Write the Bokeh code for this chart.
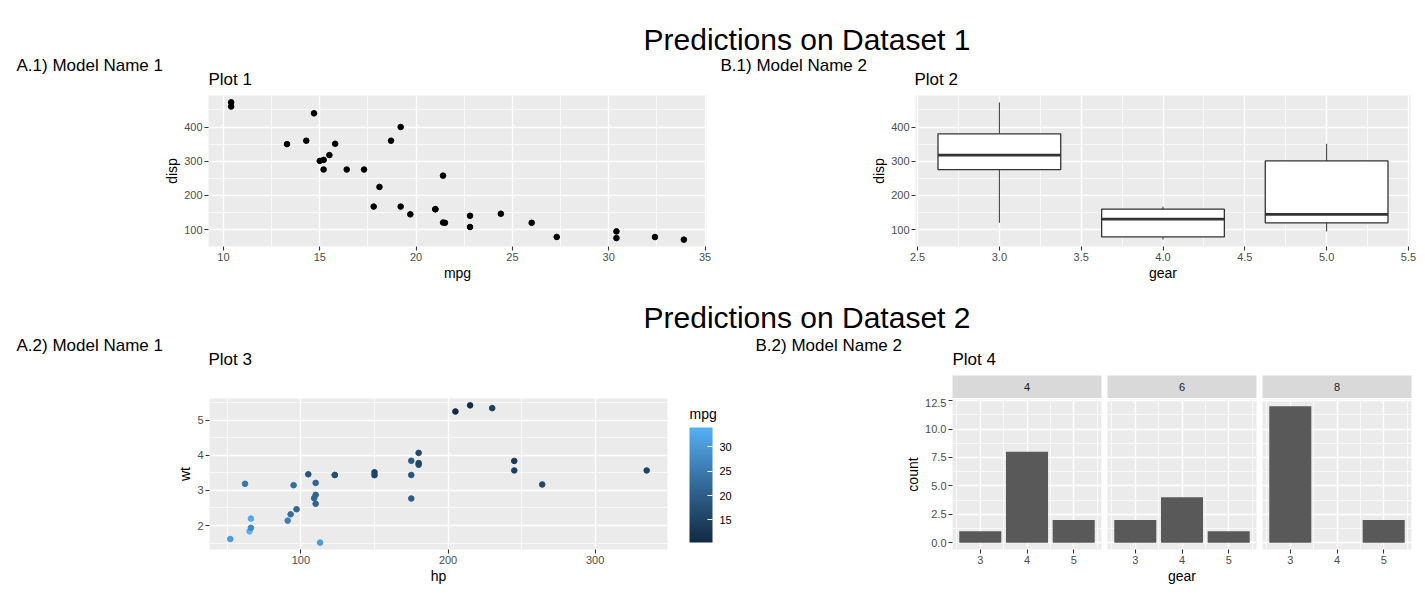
import numpy as np
import pandas as pd

from bokeh.core.properties import value
from bokeh.embed import file_html
from bokeh.layouts import column, row
from bokeh.models import (ColorBar, ColumnDataSource, FixedTicker, LinearColorMapper,
                          NumeralTickFormatter, Range1d)
from bokeh.plotting import figure
from bokeh.resources import INLINE
from bokeh.transform import transform

FONT = "Liberation Sans"
PANEL_BG = "#EBEBEB"
STRIP_BG = "#D9D9D9"
TICK_GREY = "#4D4D4D"
BAR_GREY = "#595959"
BOX_LINE = "#333333"

# ---- mtcars columns ----
mpg = [21.0, 21.0, 22.8, 21.4, 18.7, 18.1, 14.3, 24.4, 22.8, 19.2, 17.8, 16.4, 17.3, 15.2,
       10.4, 10.4, 14.7, 32.4, 30.4, 33.9, 21.5, 15.5, 15.2, 13.3, 19.2, 27.3, 26.0, 30.4,
       15.8, 19.7, 15.0, 21.4]
cyl = [6, 6, 4, 6, 8, 6, 8, 4, 4, 6, 6, 8, 8, 8, 8, 8, 8, 4, 4, 4, 4, 8, 8, 8, 8, 4, 4, 4,
       8, 6, 8, 4]
disp = [160.0, 160.0, 108.0, 258.0, 360.0, 225.0, 360.0, 146.7, 140.8, 167.6, 167.6, 275.8,
        275.8, 275.8, 472.0, 460.0, 440.0, 78.7, 75.7, 71.1, 120.1, 318.0, 304.0, 350.0,
        400.0, 79.0, 120.3, 95.1, 351.0, 145.0, 301.0, 121.0]
hp = [110, 110, 93, 110, 175, 105, 245, 62, 95, 123, 123, 180, 180, 180, 205, 215, 230, 66,
      52, 65, 97, 150, 150, 245, 175, 66, 91, 113, 264, 175, 335, 109]
wt = [2.620, 2.875, 2.320, 3.215, 3.440, 3.460, 3.570, 3.190, 3.150, 3.440, 3.440, 4.070,
      3.730, 3.780, 5.250, 5.424, 5.345, 2.200, 1.615, 1.835, 2.465, 3.520, 3.435, 3.840,
      3.845, 1.935, 2.140, 1.513, 3.170, 2.770, 3.570, 2.780]
gear = [4, 4, 4, 3, 3, 3, 3, 4, 4, 4, 4, 3, 3, 3, 3, 3, 3, 4, 4, 4, 3, 3, 3, 3, 3, 4, 5, 5,
        5, 5, 5, 4]

# ---- breaks ----
mpg_breaks, mpg_minor = [10, 15, 20, 25, 30, 35], [12.5, 17.5, 22.5, 27.5, 32.5]
disp_breaks, disp_minor = [100, 200, 300, 400], [150, 250, 350, 450]
gear_breaks, gear_minor = [2.5, 3.0, 3.5, 4.0, 4.5, 5.0, 5.5], [2.75, 3.25, 3.75, 4.25, 4.75, 5.25]
hp_breaks, hp_minor = [100, 200, 300], [50, 150, 250]
wt_breaks, wt_minor = [2, 3, 4, 5], [1.5, 2.5, 3.5, 4.5, 5.5]
bar_gear_breaks, bar_gear_minor = [3, 4, 5], [2.5, 3.5, 4.5, 5.5]
count_breaks, count_minor = [0, 2.5, 5, 7.5, 10, 12.5], [1.25, 3.75, 6.25, 8.75, 11.25]
mpg_legend_breaks = [15, 20, 25, 30]

# ---- text ----
dataset_titles = ["Predictions on Dataset 1", "Predictions on Dataset 2"]
model_names = ["A.1) Model Name 1", "B.1) Model Name 2", "A.2) Model Name 1", "B.2) Model Name 2"]
plot_titles = ["Plot 1", "Plot 2", "Plot 3", "Plot 4"]

cars = pd.DataFrame(dict(mpg=mpg, cyl=cyl, disp=disp, hp=hp, wt=wt, gear=gear))
src = ColumnDataSource(cars)


def padded(lo, hi, mult=0.05):
    d = (hi - lo) * mult
    return lo - d, hi + d


def lab_gradient(low, high, n=256):
    """Colour ramp interpolated in CIE Lab space."""
    def to_lab(h):
        rgb = np.array([int(h[i:i + 2], 16) / 255 for i in (1, 3, 5)])
        lin = np.where(rgb <= 0.04045, rgb / 12.92, ((rgb + 0.055) / 1.055) ** 2.4)
        m = np.array([[0.4124, 0.3576, 0.1805], [0.2126, 0.7152, 0.0722], [0.0193, 0.1192, 0.9505]])
        xyz = m @ lin / np.array([0.95047, 1.0, 1.08883])
        f = np.where(xyz > (6 / 29) ** 3, np.cbrt(xyz), xyz / (3 * (6 / 29) ** 2) + 4 / 29)
        return np.array([116 * f[1] - 16, 500 * (f[0] - f[1]), 200 * (f[1] - f[2])])

    def to_hex(lab):
        fy = (lab[0] + 16) / 116
        f = np.array([fy + lab[1] / 500, fy, fy - lab[2] / 200])
        xyz = np.where(f > 6 / 29, f ** 3, 3 * (6 / 29) ** 2 * (f - 4 / 29)) * np.array([0.95047, 1.0, 1.08883])
        m = np.array([[3.2406, -1.5372, -0.4986], [-0.9689, 1.8758, 0.0415], [0.0557, -0.2040, 1.0570]])
        lin = np.clip(m @ xyz, 0, 1)
        rgb = np.where(lin <= 0.0031308, 12.92 * lin, 1.055 * lin ** (1 / 2.4) - 0.055)
        return "#%02x%02x%02x" % tuple(int(round(c * 255)) for c in rgb)

    a, b = to_lab(low), to_lab(high)
    return [to_hex(a + (b - a) * t) for t in np.linspace(0, 1, n)]


def make_panel(width, height, xr, yr, left, right, top, bottom, y_axis=True):
    p = figure(width=width, height=height, x_range=Range1d(*xr), y_range=Range1d(*yr),
               output_backend="svg", toolbar_location=None,
               y_axis_location="left" if y_axis else None,
               min_border_left=left, min_border_right=right,
               min_border_top=top, min_border_bottom=bottom)
    p.background_fill_color = PANEL_BG
    p.border_fill_color = "white"
    p.outline_line_color = None
    p.grid.grid_line_color = "white"
    p.grid.grid_line_width = 1.4
    p.grid.minor_grid_line_color = "white"
    p.grid.minor_grid_line_width = 0.7
    for ax in p.axis:
        ax.axis_line_color = None
        ax.major_tick_line_color = BOX_LINE
        ax.major_tick_line_width = 1.1
        ax.major_tick_in = 0
        ax.major_tick_out = 4
        ax.minor_tick_line_color = None
        ax.major_label_text_font = FONT
        ax.major_label_text_font_size = "11px"
        ax.major_label_text_color = TICK_GREY
        ax.major_label_standoff = 2
        ax.axis_label_text_font = FONT
        ax.axis_label_text_font_size = "14px"
        ax.axis_label_text_font_style = "normal"
        ax.axis_label_text_color = "black"
    for ax in p.xaxis:
        ax.axis_label_standoff = 1
    for ax in p.yaxis:
        ax.axis_label_standoff = 1
    return p


def set_breaks(p, xmaj, xmin, ymaj, ymin):
    xt = FixedTicker(ticks=xmaj, minor_ticks=xmin)
    yt = FixedTicker(ticks=ymaj, minor_ticks=ymin)
    for ax in p.xaxis:
        ax.ticker = xt
    for ax in p.yaxis:
        ax.ticker = yt
    p.xgrid.ticker = xt
    p.ygrid.ticker = yt


def pixel_canvas(x0, x1, y_top, y_bot, frame_top=None, frame_bot=None):
    """Axis-free figure whose data coordinates are page pixels (y grows downward)."""
    ft = y_top if frame_top is None else frame_top
    fb = y_bot if frame_bot is None else frame_bot
    h = figure(width=x1 - x0, height=y_bot - y_top, x_range=Range1d(x0, x1),
               y_range=Range1d(fb, ft), output_backend="svg", toolbar_location=None,
               x_axis_location=None, y_axis_location=None, min_border=0,
               min_border_top=ft - y_top, min_border_bottom=y_bot - fb)
    h.grid.visible = False
    h.outline_line_color = None
    h.background_fill_color = "white"
    h.border_fill_color = "white"
    return h


def put_text(h, xs, ys, texts, size, align="left"):
    h.text(x=xs, y=ys, text=texts, text_font=value(FONT), text_font_size=size,
           text_align=align, text_baseline="middle", text_color="black")


# ---- header rows (text centres) ----
head1 = pixel_canvas(0, 1425, 0, 90)
put_text(head1, [806.5], [39], [dataset_titles[0]], "30px", "center")
put_text(head1, [16, 720], [64.5, 64.5], model_names[:2], "17px")
put_text(head1, [208, 914], [78.5, 78.5], plot_titles[:2], "17px")

head2 = pixel_canvas(0, 1425, 290, 375)
put_text(head2, [806.5], [317], [dataset_titles[1]], "30px", "center")
put_text(head2, [16, 755], [345, 345], model_names[2:], "17px")
put_text(head2, [208, 952], [359, 359], [plot_titles[2], plot_titles[3]], "17px")

# ---- Plot 1: mpg vs disp ----
disp_range = padded(min(disp), max(disp))
p1 = make_panel(712, 200, padded(min(mpg), max(mpg)), disp_range, 208, 6, 5, 44)
p1.scatter("mpg", "disp", source=src, size=5.6, color="black")
set_breaks(p1, mpg_breaks, mpg_minor, disp_breaks, disp_minor)
p1.xaxis.axis_label = "mpg"
p1.yaxis.axis_label = "disp"

# ---- Plot 2: disp boxplots by gear ----
levels = sorted(set(gear))
half = 0.375
stats = []
for g in levels:
    v = np.array([d for d, gg in zip(disp, gear) if gg == g])
    q1, med, q3 = np.percentile(v, [25, 50, 75])
    iqr = q3 - q1
    lo = v[v >= q1 - 1.5 * iqr].min()
    hi = v[v <= q3 + 1.5 * iqr].max()
    stats.append(dict(x=float(g), q1=q1, med=med, q3=q3, lo=lo, hi=hi,
                      left=g - half, right=g + half))
box = ColumnDataSource(pd.DataFrame(stats))

p2 = make_panel(713, 200, padded(levels[0] - half, levels[-1] + half), disp_range, 203, 15, 5, 44)
p2.segment(x0="x", y0="q3", x1="x", y1="hi", source=box, line_color=BOX_LINE, line_width=1.0)
p2.segment(x0="x", y0="q1", x1="x", y1="lo", source=box, line_color=BOX_LINE, line_width=1.0)
p2.vbar(x="x", width=2 * half, bottom="q1", top="q3", source=box, fill_color="white",
        line_color=BOX_LINE, line_width=1.3)
p2.segment(x0="left", y0="med", x1="right", y1="med", source=box, line_color=BOX_LINE,
           line_width=2.6)
set_breaks(p2, gear_breaks, gear_minor, disp_breaks, disp_minor)
p2.xaxis.formatter = NumeralTickFormatter(format="0.0")
p2.xaxis.axis_label = "gear"
p2.yaxis.axis_label = "disp"

# ---- Plot 3: hp vs wt coloured by mpg ----
mapper = LinearColorMapper(palette=lab_gradient("#132B43", "#56B1F7"), low=min(mpg), high=max(mpg))
p3 = make_panel(680, 224, padded(min(hp), max(hp)), padded(min(wt), max(wt)), 209, 13, 23, 50)
p3.scatter("hp", "wt", source=src, size=5.6, fill_color=transform("mpg", mapper),
           line_color=transform("mpg", mapper))
set_breaks(p3, hp_breaks, hp_minor, wt_breaks, wt_minor)
p3.xaxis.axis_label = "hp"
p3.yaxis.axis_label = "wt"

# colour legend in its own strip to the right of Plot 3 (frame shares Plot 3's vertical extent)
legend = pixel_canvas(680, 760, 375, 599, frame_top=398, frame_bot=549)
put_text(legend, [689], [413], ["mpg"], "14px")
cbar = ColorBar(color_mapper=mapper, ticker=FixedTicker(ticks=mpg_legend_breaks),
                width=23, height=115, location=(9, 7), margin=0, padding=0,
                major_label_text_font=FONT, major_label_text_font_size="11px",
                major_label_text_color="black", label_standoff=7,
                major_tick_line_color="white", major_tick_in=5, major_tick_out=0,
                minor_tick_line_color=None, bar_line_color=None,
                background_fill_color=None, border_line_color=None)
legend.add_layout(cbar, "center")

# ---- Plot 4: counts of gear, one facet per cyl ----
counts = cars.groupby(["cyl", "gear"]).size().reset_index(name="count")
facet_levels = sorted(set(cyl))
bar_x = padded(min(gear) - 0.45, max(gear) + 0.45)
count_y = padded(0, counts["count"].max())
facet_w = [344, 155, 166]
facet_l = [192, 3, 3]
facet_r = [3, 3, 14]

facet_cols = []
for i, c in enumerate(facet_levels):
    s = figure(width=facet_w[i], height=23, x_range=Range1d(0, 1), y_range=Range1d(0, 1),
               output_backend="svg", toolbar_location=None, x_axis_location=None,
               y_axis_location=None, min_border_left=facet_l[i], min_border_right=facet_r[i],
               min_border_top=0, min_border_bottom=0)
    s.background_fill_color = STRIP_BG
    s.border_fill_color = "white"
    s.outline_line_color = None
    s.grid.visible = False
    s.text(x=[0.5], y=[0.5], text=[str(c)], text_font=value(FONT), text_font_size="11px",
           text_align="center", text_baseline="middle", text_color="#1A1A1A")

    f = make_panel(facet_w[i], 201, bar_x, count_y, facet_l[i], facet_r[i], 1, 50, y_axis=(i == 0))
    sub = counts[counts["cyl"] == c]
    f.vbar(x="gear", top="count", width=0.9, bottom=0, source=ColumnDataSource(sub),
           fill_color=BAR_GREY, line_color=None)
    set_breaks(f, bar_gear_breaks, bar_gear_minor, count_breaks, count_minor)
    if i == 0:
        f.yaxis.formatter = NumeralTickFormatter(format="0.0")
        f.yaxis.axis_label = "count"
    if i == 1:
        f.xaxis.axis_label = "gear"
    facet_cols.append(column(s, f, spacing=0))

layout = column(
    head1,
    row(p1, p2, spacing=0),
    head2,
    row(p3, legend, *facet_cols, spacing=0),
    spacing=0,
)

open("out.html", "w").write(file_html(layout, INLINE))
